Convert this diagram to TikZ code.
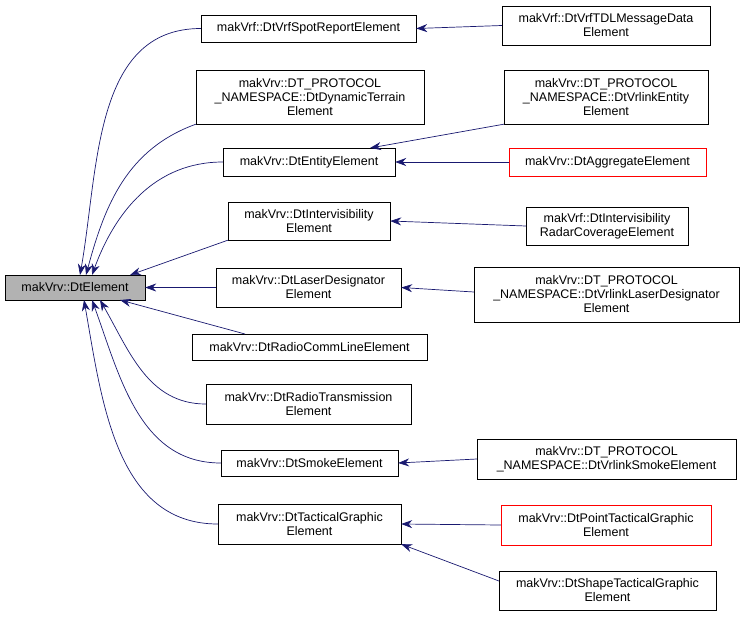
\documentclass[tikz,border=0pt]{standalone}
\usepackage{fontspec}
\setmainfont{Liberation Sans}
\usetikzlibrary{arrows.meta}
\definecolor{edge}{HTML}{191970}
\tikzset{box/.style={draw=black,fill=white,align=center,font=\fontsize{12.5}{14}\selectfont,inner sep=0pt},
redbox/.style={box,draw=red},
inh/.style={draw=edge,-{Stealth[length=11pt,width=8pt]},line width=0.7pt}}
\newcommand{\bx}[7]{\node[#2,minimum width=#5-#3,minimum height=#6-#4] (#1) at ({(#3+#5)/2},{(#4+#6)/2}) {#7};}
\begin{document}
\begin{tikzpicture}[x=1pt,y=-1pt]
\useasboundingbox (0,0) rectangle (744,616);
\bx{e}{box,fill=gray!60}{5}{275}{145}{300}{makVrv::DtElement}
\bx{spot}{box}{201}{15}{416}{42}{makVrf::DtVrfSpotReportElement}
\bx{dyn}{box}{196}{70}{424}{124}{makVrv::DT\_PROTOCOL\\\_NAMESPACE::DtDynamicTerrain\\Element}
\bx{ent}{box}{223}{148}{395}{176}{makVrv::DtEntityElement}
\bx{inv}{box}{228}{202}{390}{240}{makVrv::DtIntervisibility\\Element}
\bx{las}{box}{216}{268}{401}{307}{makVrv::DtLaserDesignator\\Element}
\bx{rcl}{box}{192}{334}{427}{360}{makVrv::DtRadioCommLineElement}
\bx{rtr}{box}{206}{384}{411}{424}{makVrv::DtRadioTransmission\\Element}
\bx{smk}{box}{221}{450}{398}{476}{makVrv::DtSmokeElement}
\bx{tac}{box}{218}{504}{401}{544}{makVrv::DtTacticalGraphic\\Element}
\bx{tdl}{box}{502}{6}{710}{45}{makVrf::DtVrfTDLMessageData\\Element}
\bx{vent}{box}{504}{70}{708}{124}{makVrv::DT\_PROTOCOL\\\_NAMESPACE::DtVrlinkEntity\\Element}
\bx{agg}{redbox}{509}{148}{706}{176}{makVrv::DtAggregateElement}
\bx{rad}{box}{526}{207}{688}{245}{makVrf::DtIntervisibility\\RadarCoverageElement}
\bx{vlas}{box}{474}{267}{739}{322}{makVrv::DT\_PROTOCOL\\\_NAMESPACE::DtVrlinkLaserDesignator\\Element}
\bx{vsmk}{box}{477}{439}{736}{479}{makVrv::DT\_PROTOCOL\\\_NAMESPACE::DtVrlinkSmokeElement}
\bx{pt}{redbox}{501}{505}{711}{545}{makVrv::DtPointTacticalGraphic\\Element}
\bx{shp}{box}{499}{571}{716}{610}{makVrv::DtShapeTacticalGraphic\\Element}
% anchor points
\coordinate (t1) at (80,275); \coordinate (t2) at (86,275); \coordinate (t3) at (92,275);
\coordinate (t4) at (130,275); \coordinate (b1) at (120,300); \coordinate (b2) at (100,300);
\coordinate (b3) at (92,300); \coordinate (b4) at (84,300);
\coordinate (rc) at (245,334); \coordinate (ent2) at (370,148);
\coordinate (rw) at (526,226); \coordinate (vw) at (474,292);
\coordinate (sw) at (499,581);
% edges to DtElement
\draw[inh] (spot.west) to[out=180,in=80] (t1);
\draw[inh] (dyn.south west) to[out=200,in=75] (t2);
\draw[inh] (ent.west) to[out=180,in=70] (t3);
\draw[inh] (inv.south west) -- (t4);
\draw[inh] (las.west) -- (e.east);
\draw[inh] (rc) -- (b1);
\draw[inh] (rtr.west) to[out=180,in=-60] (b2);
\draw[inh] (smk.west) to[out=180,in=-70] (b3);
\draw[inh] (tac.west) to[out=180,in=-80] (b4);
% col3 edges
\draw[inh] (tdl.west) -- (spot.east);
\draw[inh] (vent.south west) -- (ent2);
\draw[inh] (agg.west) -- (ent.east);
\draw[inh] (rw) -- (inv.east);
\draw[inh] (vw) -- (las.east);
\draw[inh] (vsmk.west) -- (smk.east);
\draw[inh] (pt.west) -- (tac.east);
\draw[inh] (sw) -- (tac.south east);
\end{tikzpicture}
\end{document}
